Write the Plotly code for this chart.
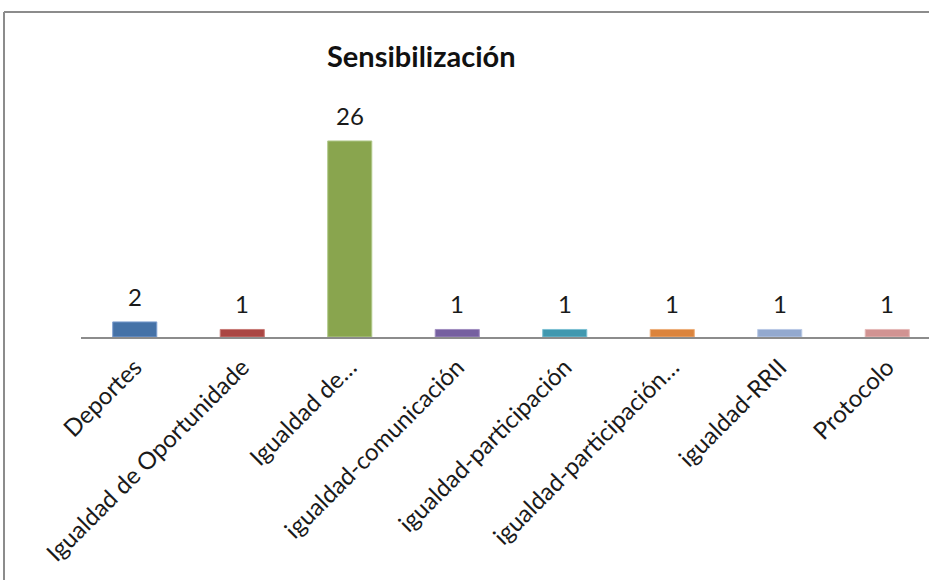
import plotly.graph_objects as go

categories = ["Deportes", "Igualdad de Oportunidade", "Igualdad de…",
              "igualdad-comunicación", "igualdad-participación",
              "igualdad-participación…", "igualdad-RRII", "Protocolo"]
values = [2, 1, 26, 1, 1, 1, 1, 1]
colors = ["#4572A7", "#AA4643", "#89A54E", "#7660A0", "#4198AF",
          "#DB843D", "#93A9CF", "#D19392"]
borders = ["#7E9FD0", "#C87A76", "#B0C98A", "#A08DC0", "#7CC0D3",
           "#EDAE7A", "#B9C9E6", "#E5B8B7"]
title_text = "Sensibilización"

W, H = 929, 582
L, R, T, B = 81, 0, 40, 245
plot_w = W - L - R
plot_h = H - T - B
px_per_cat = 107.5
px_per_unit = 7.54

FONT = "Lato"

fig = go.Figure()
fig.add_trace(go.Bar(
    x=categories, y=values,
    marker=dict(color=colors, line=dict(color=borders, width=1)),
    width=0.41,
    hoverinfo="x+y",
))

for c, v in zip(categories, values):
    fig.add_annotation(x=c, y=v, text=str(v), showarrow=False,
                       yanchor="bottom", yshift=9,
                       font=dict(family=FONT, size=24, color="#1a1a1a"))

fig.add_annotation(xref="paper", yref="paper",
                   x=(421 - L) / plot_w, y=(T + plot_h - 56) / plot_h,
                   text="<b>" + title_text + "</b>", showarrow=False,
                   xanchor="center", yanchor="middle",
                   font=dict(family=FONT, size=29, color="#111111"))

# chart frame (top and left edges only; the rest lies outside the window)
fx0 = (4 - L) / plot_w
fy1 = (T + plot_h - 12) / plot_h
fig.add_shape(type="line", xref="paper", yref="paper",
              x0=fx0, x1=1.0, y0=fy1, y1=fy1,
              line=dict(color="#8c8c8c", width=2), layer="below")
fig.add_shape(type="line", xref="paper", yref="paper",
              x0=fx0, x1=fx0, y0=-(B - 2) / plot_h, y1=fy1,
              line=dict(color="#8c8c8c", width=2), layer="below")

x_max = -0.5 + plot_w / px_per_cat
y_max = plot_h / px_per_unit

fig.update_layout(
    width=W, height=H,
    margin=dict(l=L, r=R, t=T, b=B),
    paper_bgcolor="white", plot_bgcolor="white",
    showlegend=False,
    font=dict(family=FONT, color="#1a1a1a"),
    xaxis=dict(range=[-0.5, x_max], tickangle=-45, ticklabelstandoff=5,
               tickfont=dict(family=FONT, size=24, color="#1a1a1a"),
               showline=True, linecolor="#8c8c8c", linewidth=1.5,
               ticks="", showgrid=False, zeroline=False, fixedrange=True),
    yaxis=dict(range=[0, y_max], visible=False, showgrid=False,
               zeroline=False, fixedrange=True),
)

fig.write_html("out.html", config={"displayModeBar": False},
               post_script="document.documentElement.style.overflow='hidden';"
                           "document.body.style.margin='0';"
                           "document.body.style.overflow='hidden';")
